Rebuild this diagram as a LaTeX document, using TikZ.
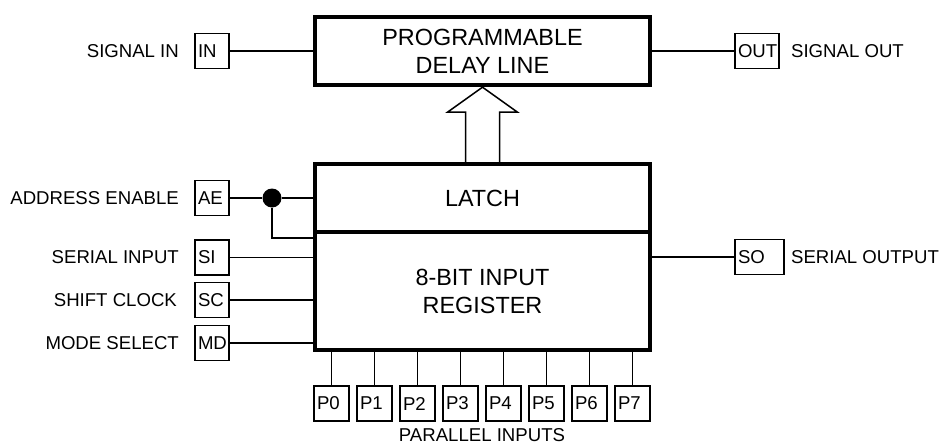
\documentclass[tikz,border=0pt]{standalone}
\usepackage{fontspec}
\setmainfont{Liberation Sans}
\usetikzlibrary{positioning,calc}

\begin{document}
\begin{tikzpicture}[x=0.5pt,y=-0.5pt,node distance=6pt,
   blk/.style={draw,line width=2.2pt,minimum width=167.5pt,align=center,font=\fontsize{11.7}{14}\selectfont},
   pinbox/.style={draw,line width=.75pt,inner xsep=1.5pt,inner ysep=0pt,minimum height=17.5pt,text width=#1,align=left,font=\fontsize{9.3}{10}\selectfont},
   lbl/.style={inner sep=0pt,font=\fontsize{9.3}{11}\selectfont},
   wire/.style={line width=.85pt},
   junc/.style={circle,fill,inner sep=0pt,minimum size=9.5pt}]
   \useasboundingbox (0,0) rectangle (943,445);
   % main blocks
   \node[blk,minimum height=34pt] (delay) at (482.5,51) {PROGRAMMABLE\\DELAY LINE};
   \node[blk,minimum height=34pt] (latch) at (482.5,198) {LATCH};
   \node[blk,minimum height=59pt] (reg) at (482.5,291) {8-BIT INPUT\\REGISTER};
   % pins
   \node[pinbox=14pt] (in) at (212,51) {IN};
   \node[pinbox=19pt] (out) at (757,51) {OUT};
   \node[pinbox=14pt] (ae) at (212,198) {AE};
   \node[pinbox=14pt] (si) at (212,257.5) {SI};
   \node[pinbox=14pt] (sc) at (212,300) {SC};
   \node[pinbox=14pt] (md) at (212,343) {MD};
   \node[pinbox=21.5pt] (so) at (759.5,257) {SO};
   \foreach \i in {0,...,7}
      \node[pinbox=14.5pt] (p\i) at ({331.5+43*\i},403.5) {P\i};
   % pin names
   \node[lbl,left=7.5pt of in] (insig) {SIGNAL IN};
   \node[lbl,right=5.5pt of out] (outsig) {SIGNAL OUT};
   \node[lbl,left=7.5pt of ae] (aename) {ADDRESS ENABLE};
   \node[lbl,left=7.5pt of si] (siname) {SERIAL INPUT};
   \node[lbl,left=8.5pt of sc] (scname) {SHIFT CLOCK};
   \node[lbl,left=7.5pt of md] (mdname) {MODE SELECT};
   \node[lbl,right=3pt of so] (soname) {SERIAL OUTPUT};
   \node[lbl,below=3pt] (pname) at ($(p3.south)!.5!(p4.south)$) {PARALLEL INPUTS};
   % wiring
   \node[junc] (dot) at (272,198) {};
   \draw[wire] (in) -- (in -| delay.west);
   \draw[wire] (out) -- (out -| delay.east);
   \draw[wire] (ae) -- (dot) -- (dot -| latch.west);
   \draw[wire] (dot) |- ([yshift=-4pt]reg.north west);
   \draw[wire] (si) -- (si -| reg.west);
   \draw[wire] (sc) -- (sc -| reg.west);
   \draw[wire] (md) -- (md -| reg.west);
   \draw[wire] (so) -- (so -| reg.east);
   \foreach \i in {0,...,7}
      \draw[wire] (p\i) -- (p\i |- reg.south);
   % bus arrow latch -> delay line
   \draw[line width=.75pt,fill=white] ([xshift=-8.5pt]latch.north) |- ([xshift=-17.5pt,yshift=-12.5pt]delay.south)
      -- (delay.south) -- ([xshift=17.5pt,yshift=-12.5pt]delay.south) -| ([xshift=8.5pt]latch.north);
\end{tikzpicture}
\end{document}
